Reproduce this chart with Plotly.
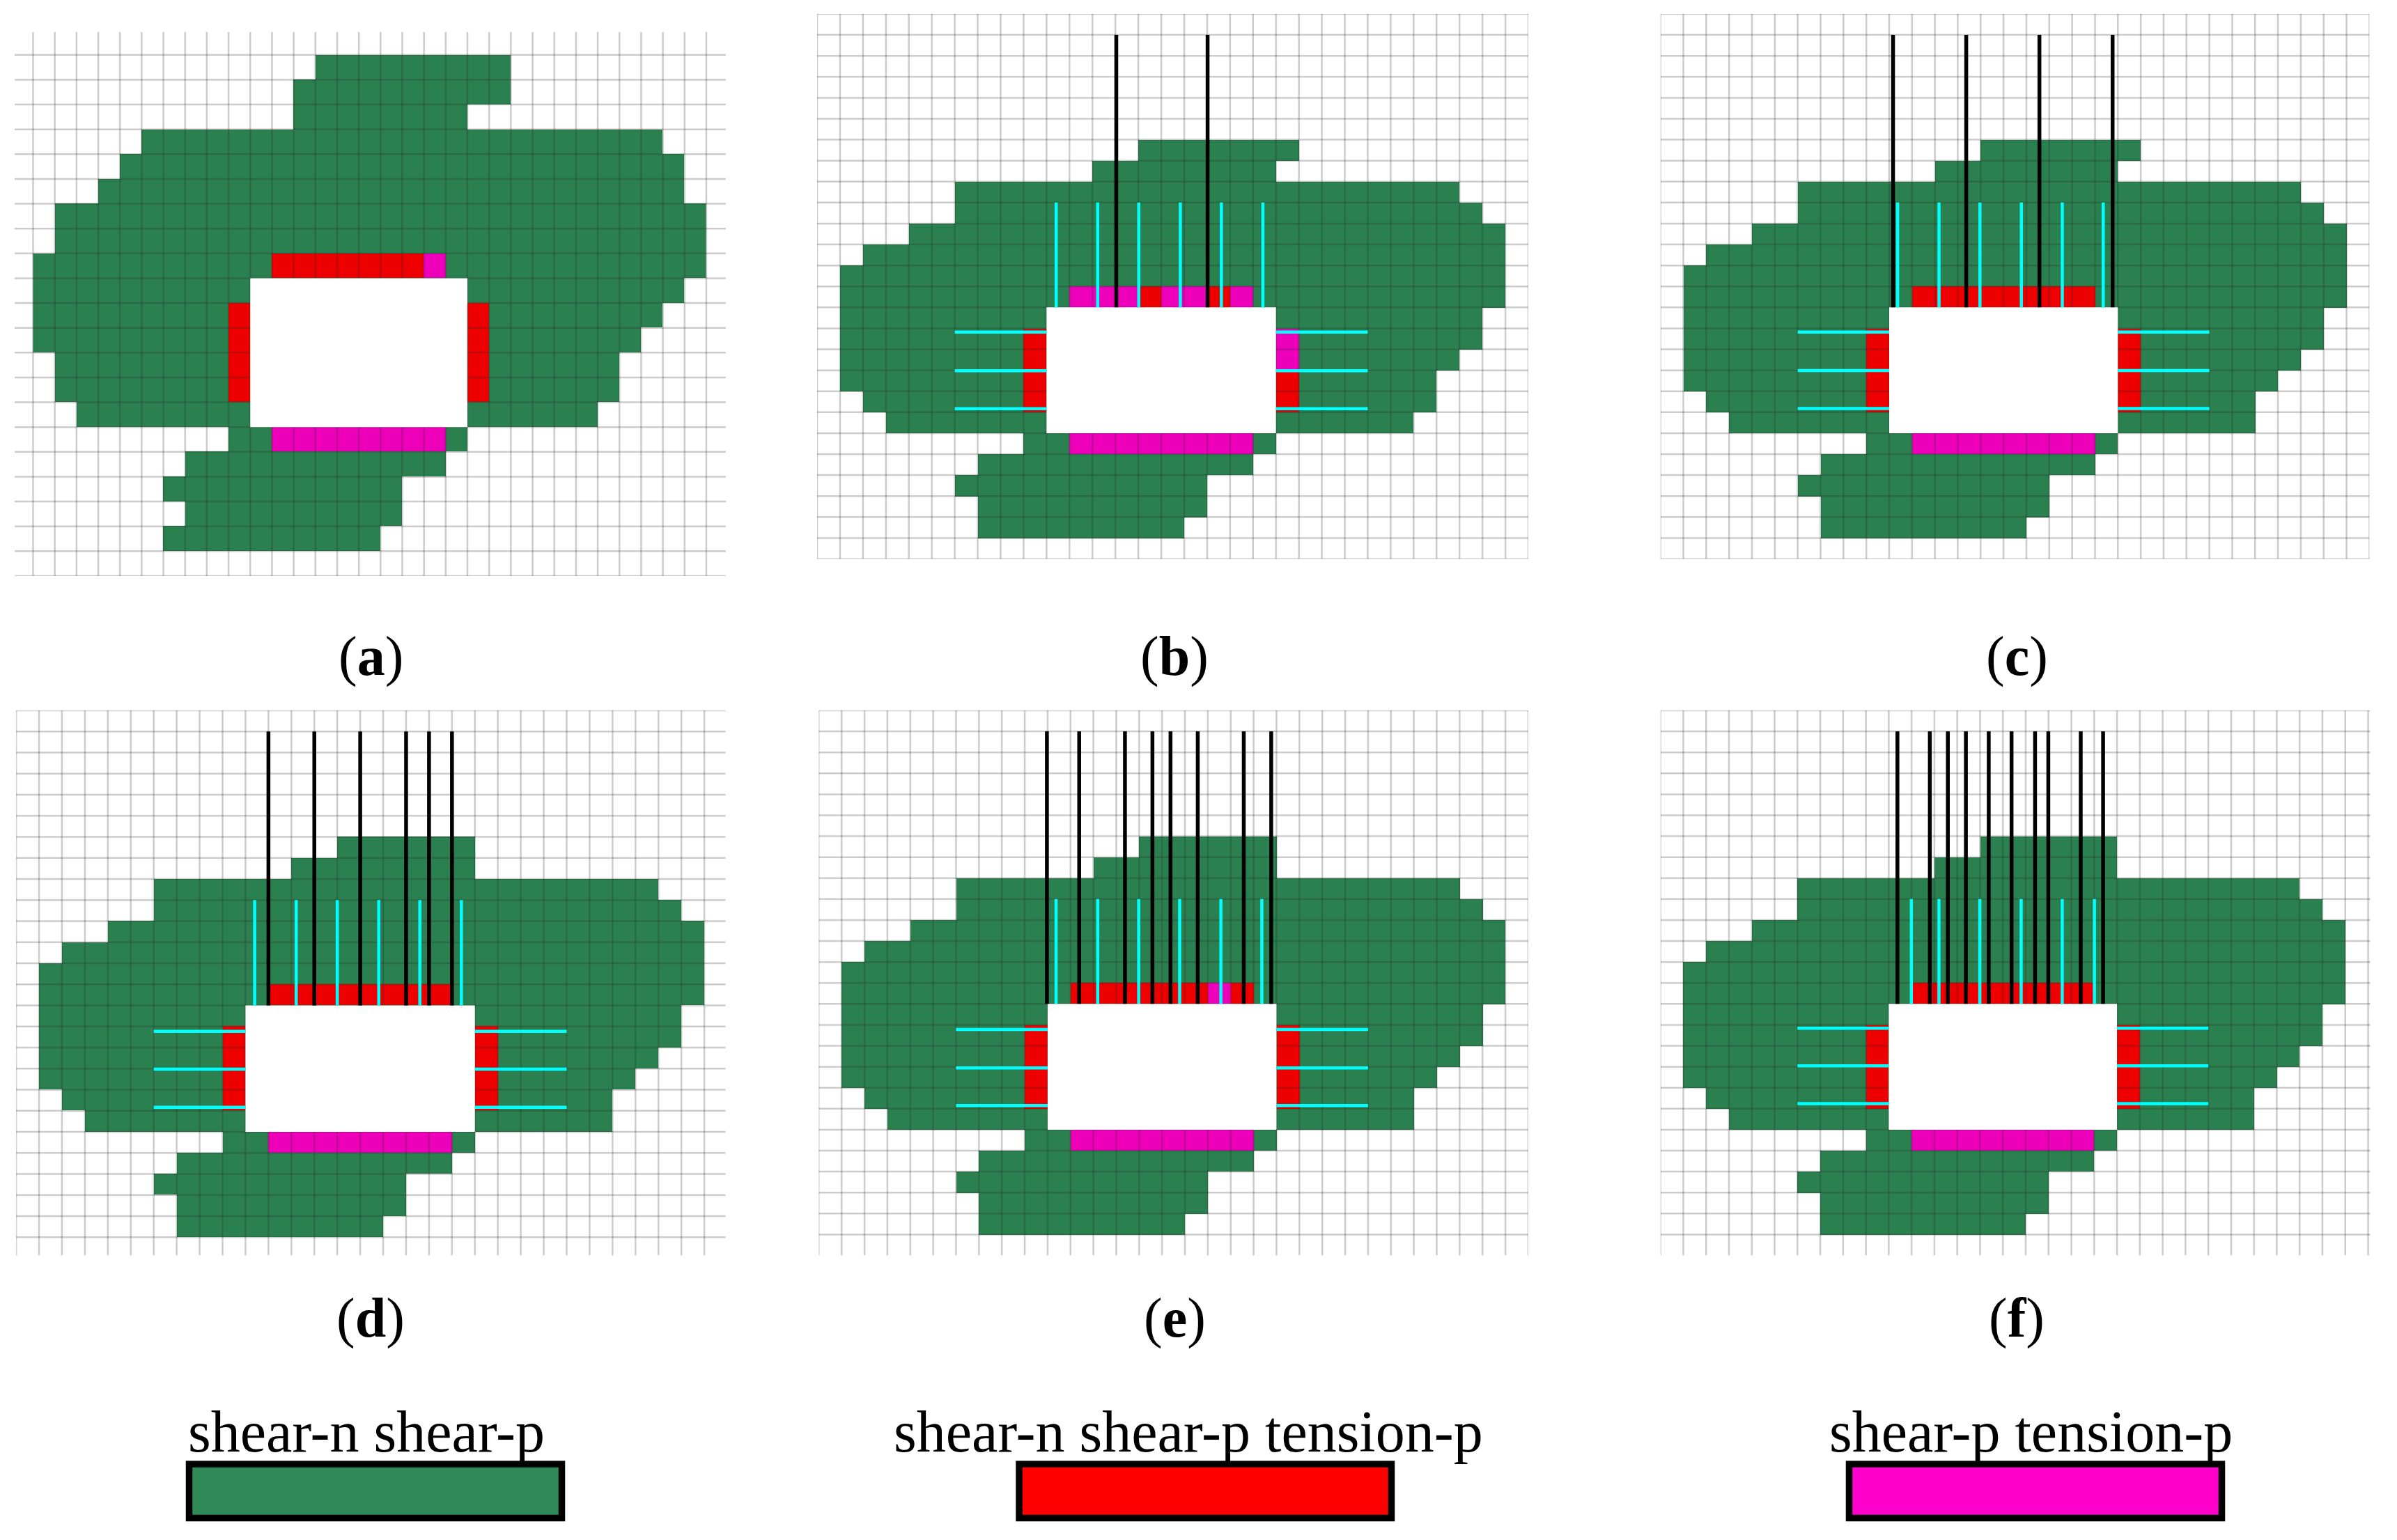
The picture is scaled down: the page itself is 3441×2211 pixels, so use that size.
"""
개착 터널 주변 소성 영역 분포 (a)~(f) 패널과 범례를 그리는 스크립트
"""

import plotly.graph_objects as go

# 패널 (a) - 행별 녹색 구간 (시작 칸, 끝 칸)
A_ROWS = [1, 2, 3, 4, 5, 6, 7, 8, 9, 10, 11, 12, 13, 14, 15, 16, 17, 18, 19, 20]
A_START = [13, 12, 12, 5, 4, 3, 1, 1, 0, 0, 0, 0, 1, 1, 2, 9, 7, 6, 7, 6]
A_STOP = [22, 22, 20, 29, 30, 30, 31, 31, 31, 30, 29, 28, 27, 27, 26, 20, 19, 17, 17, 16]
A_TOP = ["r", "r", "r", "r", "r", "r", "r", "m"]
A_LEFT = ["r", "r", "r", "r"]
A_RIGHT = ["r", "r", "r", "r"]

# 패널 (b)~(f) 공통 행 번호
ROWS = [6, 7, 8, 9, 10, 11, 12, 13, 14, 15, 16, 17, 18, 19, 20, 21, 22, 23, 24]

B_START = [14, 12, 6, 6, 4, 2, 1, 1, 1, 1, 1, 1, 2, 3, 9, 7, 6, 7, 7]
B_STOP = [21, 20, 28, 29, 30, 30, 30, 30, 29, 29, 28, 27, 27, 26, 20, 19, 17, 17, 16]
B_TOP = ["m", "m", "m", "r", "m", "m", "r", "m"]
B_LEFT = ["r", "r", "r", "r"]
B_RIGHT = ["m", "m", "r", "r"]
B_CYAN_X = [10.42, 12.23, 14.02, 15.83, 17.62, 19.43]
B_CYAN_Y = [15.18, 17.02, 18.83]
B_BLACK_X = [13.04, 17.02]

C_START = [14, 12, 6, 6, 4, 2, 1, 1, 1, 1, 1, 1, 2, 3, 9, 7, 6, 7, 7]
C_STOP = [21, 20, 28, 29, 30, 30, 30, 30, 29, 29, 28, 27, 26, 26, 20, 19, 17, 17, 16]
C_TOP = ["r", "r", "r", "r", "r", "r", "r", "r"]
C_LEFT = ["r", "r", "r", "r"]
C_RIGHT = ["r", "r", "r", "r"]
C_CYAN_X = [10.37, 12.18, 13.97, 15.78, 17.57, 19.36]
C_CYAN_Y = [15.18, 17.01, 18.82]
C_BLACK_X = [10.17, 13.37, 16.57, 19.77]

D_START = [14, 12, 6, 6, 4, 2, 1, 1, 1, 1, 1, 1, 2, 3, 9, 7, 6, 7, 7]
D_STOP = [20, 20, 28, 29, 30, 30, 30, 30, 29, 29, 28, 27, 26, 26, 20, 19, 17, 17, 16]
D_TOP = ["r", "r", "r", "r", "r", "r", "r", "r"]
D_LEFT = ["r", "r", "r", "r"]
D_RIGHT = ["r", "r", "r", "r"]
D_CYAN_X = [10.40, 12.21, 14.00, 15.81, 17.60, 19.41]
D_CYAN_Y = [15.23, 17.03, 18.84]
D_BLACK_X = [11.0, 13.0, 15.0, 17.0, 18.0, 19.0]

E_START = [14, 12, 6, 6, 4, 2, 1, 1, 1, 1, 1, 1, 2, 3, 9, 7, 6, 7, 7]
E_STOP = [20, 20, 28, 29, 30, 30, 30, 30, 29, 29, 28, 27, 26, 26, 20, 19, 17, 17, 16]
E_TOP = ["r", "r", "r", "r", "r", "r", "m", "r"]
E_LEFT = ["r", "r", "r", "r"]
E_RIGHT = ["r", "r", "r", "r"]
E_CYAN_X = [10.37, 12.19, 13.98, 15.77, 17.57, 19.36]
E_CYAN_Y = [15.22, 17.05, 18.85]
E_BLACK_X = [9.97, 11.38, 13.38, 14.58, 15.37, 16.56, 18.57, 19.77]

F_START = [14, 12, 6, 6, 4, 2, 1, 1, 1, 1, 1, 1, 2, 3, 9, 7, 6, 7, 7]
F_STOP = [20, 20, 28, 29, 30, 30, 30, 30, 29, 29, 28, 27, 26, 26, 20, 19, 17, 17, 16]
F_TOP = ["r", "r", "r", "r", "r", "r", "r", "r"]
F_LEFT = ["r", "r", "r", "r"]
F_RIGHT = ["r", "r", "r", "r"]
F_CYAN_X = [10.99, 12.20, 13.99, 15.80, 17.60, 19.01]
F_CYAN_Y = [15.16, 16.95, 18.76]
F_BLACK_X = [10.38, 11.80, 12.59, 13.38, 14.38, 15.38, 16.41, 16.99, 18.41, 19.39]

PANEL_LABELS = ["a", "b", "c", "d", "e", "f"]
LEGEND_LABELS = ["shear-n shear-p", "shear-n shear-p tension-p", "shear-p tension-p"]

# 색상
GREEN = "#2B8050"
RED = "#EE0000"
MAGENTA = "#EE00BB"
CYAN = "#00FFFF"
LEGEND_COLORS = ["#2E8B57", "#FF0000", "#FF00CC"]
GRID = "rgba(40,40,40,0.24)"

WIDTH = 3441
HEIGHT = 2211


def grid_segments(x_lo, x_hi, y_lo, y_hi, columns, lines):
    """격자선을 None으로 끊어진 한 개의 선 좌표로 만듭니다."""
    xs, ys = [], []
    for c in columns:
        xs += [c, c, None]
        ys += [y_lo, y_hi, None]
    for r in lines:
        xs += [x_lo, x_hi, None]
        ys += [r, r, None]
    return xs, ys


def add_panel(fig, idx, spec):
    """패널 하나를 heatmap + scatter 로 그립니다."""
    xaxis = f"x{idx}" if idx > 1 else "x"
    yaxis = f"y{idx}" if idx > 1 else "y"
    x_lo, x_hi = spec["x_range"]
    y_lo, y_hi = spec["y_range"]
    hole_x0, hole_x1 = 10, 20
    hole_y0, hole_y1 = spec["hole"]

    # 칸별 상태 행렬 (0 빈칸, 1 녹색, 2 빨강, 3 자홍)
    n_rows = int(y_hi) + 1
    z = [[0] * 31 for _ in range(n_rows)]
    for row, start, stop in zip(spec["rows"], spec["start"], spec["stop"]):
        for c in range(start, stop):
            z[row][c] = 1
    codes = {"r": 2, "m": 3}
    for c, code in zip(range(11, 19 + 1), spec["top"]):
        z[hole_y0 - 1][c] = codes[code]
    for r, code in zip(range(hole_y0 + 1, hole_y1 - 1), spec["left"]):
        z[r][9] = codes[code]
    for r, code in zip(range(hole_y0 + 1, hole_y1 - 1), spec["right"]):
        z[r][20] = codes[code]
    for c in range(11, 19):
        z[hole_y1][c] = 3

    fig.add_trace(
        go.Heatmap(
            x=[c + 0.5 for c in range(31)],
            y=[r + 0.5 for r in range(n_rows)],
            z=z,
            zmin=0,
            zmax=3,
            showscale=False,
            hoverinfo="skip",
            colorscale=[
                [0, "rgba(255,255,255,0)"],
                [0.25, "rgba(255,255,255,0)"],
                [0.25, GREEN],
                [0.5, GREEN],
                [0.5, RED],
                [0.75, RED],
                [0.75, MAGENTA],
                [1, MAGENTA],
            ],
            xaxis=xaxis,
            yaxis=yaxis,
        )
    )

    xs, ys = grid_segments(x_lo, x_hi, y_lo, y_hi, spec["columns"], spec["lines"])
    fig.add_trace(
        go.Scatter(
            x=xs, y=ys, mode="lines", line=dict(color=GRID, width=2.5),
            hoverinfo="skip", showlegend=False, xaxis=xaxis, yaxis=yaxis,
        )
    )

    # 터널 단면 (흰색)
    fig.add_trace(
        go.Scatter(
            x=[hole_x0, hole_x1, hole_x1, hole_x0, hole_x0],
            y=[hole_y0, hole_y0, hole_y1, hole_y1, hole_y0],
            mode="lines", fill="toself", fillcolor="white", line=dict(width=0),
            hoverinfo="skip", showlegend=False, xaxis=xaxis, yaxis=yaxis,
        )
    )

    # 록볼트 (청록)
    xs, ys = [], []
    for c in spec.get("cyan_x", []):
        xs += [c, c, None]
        ys += [hole_y0 - 5, hole_y0, None]
    for r in spec.get("cyan_y", []):
        xs += [hole_x0 - 4, hole_x0, None, hole_x1, hole_x1 + 4, None]
        ys += [r, r, None, r, r, None]
    if xs:
        fig.add_trace(
            go.Scatter(
                x=xs, y=ys, mode="lines", line=dict(color=CYAN, width=4.5),
                hoverinfo="skip", showlegend=False, xaxis=xaxis, yaxis=yaxis,
            )
        )

    # 앵커 케이블 (검정)
    xs, ys = [], []
    for c in spec.get("black_x", []):
        xs += [c, c, None]
        ys += [1, hole_y0, None]
    if xs:
        fig.add_trace(
            go.Scatter(
                x=xs, y=ys, mode="lines", line=dict(color="black", width=5.5),
                hoverinfo="skip", showlegend=False, xaxis=xaxis, yaxis=yaxis,
            )
        )


# 패널 위치와 축 범위 (픽셀 기준)
full_columns = list(range(0, 32))
PANELS = [
    dict(rows=A_ROWS, start=A_START, stop=A_STOP, top=A_TOP, left=A_LEFT, right=A_RIGHT,
         hole=(10, 16), columns=full_columns, lines=list(range(1, 23)),
         x_range=(-0.85, 31.9), y_range=(0.08, 22), px=(21, 1042, 46, 827)),
    dict(rows=ROWS, start=B_START, stop=B_STOP, top=B_TOP, left=B_LEFT, right=B_RIGHT,
         cyan_x=B_CYAN_X, cyan_y=B_CYAN_Y, black_x=B_BLACK_X,
         hole=(14, 20), columns=full_columns, lines=list(range(0, 27)),
         x_range=(0, 31), y_range=(0, 26), px=(1173, 2194, 20, 802.5)),
    dict(rows=ROWS, start=C_START, stop=C_STOP, top=C_TOP, left=C_LEFT, right=C_RIGHT,
         cyan_x=C_CYAN_X, cyan_y=C_CYAN_Y, black_x=C_BLACK_X,
         hole=(14, 20), columns=full_columns, lines=list(range(0, 27)),
         x_range=(0, 31), y_range=(0, 26), px=(2383.7, 3401.4, 20, 802.5)),
    dict(rows=ROWS, start=D_START, stop=D_STOP, top=D_TOP, left=D_LEFT, right=D_RIGHT,
         cyan_x=D_CYAN_X, cyan_y=D_CYAN_Y, black_x=D_BLACK_X,
         hole=(14, 20), columns=full_columns[:31], lines=list(range(0, 26)),
         x_range=(0, 30.93), y_range=(0, 25.87), px=(23.1, 1041.7, 1020, 1802.5)),
    dict(rows=ROWS, start=E_START, stop=E_STOP, top=E_TOP, left=E_LEFT, right=E_RIGHT,
         cyan_x=E_CYAN_X, cyan_y=E_CYAN_Y, black_x=E_BLACK_X,
         hole=(14, 20), columns=full_columns, lines=list(range(0, 26)),
         x_range=(0, 31), y_range=(0, 26), px=(1175.3, 2193.9, 1020, 1802.5)),
    dict(rows=ROWS, start=F_START, stop=F_STOP, top=F_TOP, left=F_LEFT, right=F_RIGHT,
         cyan_x=F_CYAN_X, cyan_y=F_CYAN_Y, black_x=F_BLACK_X,
         hole=(14, 20), columns=full_columns, lines=list(range(0, 26)),
         x_range=(0, 31.1), y_range=(0, 26), px=(2383.7, 3402.8, 1020, 1802.5)),
]

# 라벨/범례 픽셀 위치
LABEL_CENTERS = [(532, 943), (1686, 943), (2895, 943), (532, 1892), (1686, 1892), (2895, 1892)]
LEGEND_BOXES = [(271.5, 806.5), (1463, 1997.5), (2654.5, 3189.5)]
LEGEND_TEXT_X = [526, 1706, 2915]


def main():
    fig = go.Figure()
    layout = {}
    for i, spec in enumerate(PANELS, start=1):
        add_panel(fig, i, spec)
        left, right, top, bottom = spec["px"]
        suffix = str(i) if i > 1 else ""
        layout[f"xaxis{suffix}"] = dict(
            domain=[left / WIDTH, right / WIDTH], range=list(spec["x_range"]), visible=False,
            anchor=f"y{suffix}",
        )
        layout[f"yaxis{suffix}"] = dict(
            domain=[1 - bottom / HEIGHT, 1 - top / HEIGHT],
            range=[spec["y_range"][1], spec["y_range"][0]], visible=False,
            anchor=f"x{suffix}",
        )

    annotations = []
    for (cx, cy), label in zip(LABEL_CENTERS, PANEL_LABELS):
        annotations.append(dict(
            x=cx / WIDTH, y=1 - cy / HEIGHT, xref="paper", yref="paper",
            text=f"(<b>{label}</b>)", showarrow=False, xanchor="center", yanchor="middle",
            font=dict(family="Liberation Serif", size=80, color="black"),
        ))
    for cx, label in zip(LEGEND_TEXT_X, LEGEND_LABELS):
        annotations.append(dict(
            x=cx / WIDTH, y=1 - 2055 / HEIGHT, xref="paper", yref="paper",
            text=label, showarrow=False, xanchor="center", yanchor="middle",
            font=dict(family="Liberation Serif", size=84, color="black"),
        ))

    shapes = []
    for (x0, x1), color in zip(LEGEND_BOXES, LEGEND_COLORS):
        shapes.append(dict(
            type="rect", xref="paper", yref="paper",
            x0=x0 / WIDTH, x1=x1 / WIDTH, y0=1 - 2179.5 / HEIGHT, y1=1 - 2102 / HEIGHT,
            fillcolor=color, line=dict(color="black", width=9.5),
        ))

    fig.update_layout(
        width=WIDTH,
        height=HEIGHT,
        margin=dict(t=0, b=0, l=0, r=0),
        paper_bgcolor="white",
        plot_bgcolor="white",
        showlegend=False,
        annotations=annotations,
        shapes=shapes,
        **layout,
    )
    # 브라우저 기본 body 여백 제거
    fig.write_html(
        "out.html",
        config={"displayModeBar": False},
        post_script="document.body.style.margin = '0';",
    )


if __name__ == "__main__":
    main()
